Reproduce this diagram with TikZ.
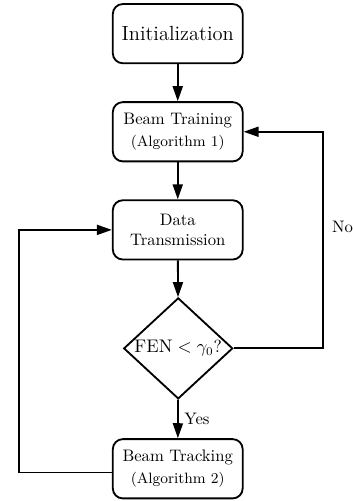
\documentclass[tikz,border=0pt]{standalone}
\usepackage{amsmath,amssymb}
\usepackage{tikz}
\usetikzlibrary{arrows.meta,positioning,shapes.geometric,calc}

\begin{document}
\begin{tikzpicture}[
  stepbox/.style={draw=black, line width=1.1pt, rounded corners=6pt,
    minimum width=2.74cm, minimum height=1.25cm, align=center, inner sep=3pt},
  decision/.style={draw=black, line width=1.1pt, shape=diamond,
    minimum width=2.30cm, minimum height=2.13cm, inner sep=0pt},
  flow/.style={line width=1.1pt, -{Triangle[length=9pt,width=6pt]}}]

\useasboundingbox (0,0) rectangle (7.44,-10.57);

\node[stepbox] (init) at (3.75,-0.71) {\fontsize{12.3}{15}\selectfont Initialization};

\node[stepbox] (train) at (3.75,-2.78) {%
  Beam Training\\[1.5pt]
  {\small (Algorithm 1)}};

\node[stepbox] (data) at (3.75,-4.85) {%
  Data\\
  Transmission};

\node[decision] (dec) at (3.76,-7.35) {%
  \makebox[0pt]{\fontsize{10.5}{12.6}\selectfont $\mathrm{FEN} < \gamma_0$?}};

\node[stepbox] (track) at (3.75,-9.89) {%
  Beam Tracking\\[1.5pt]
  {\small (Algorithm 2)}};

% Main flow
\draw[flow] (init) -- (train);
\draw[flow] (train) -- (data);
\draw[flow] (data) -- (dec);
\draw[flow] (dec) -- node[right]{Yes} (track);

% Loops back
\coordinate (noturn) at (6.81,-7.35);
\coordinate (backturn) at (0.40,-9.97);
\draw[flow] (dec.east) -- (noturn) |- node[pos=0.28, right, inner sep=5pt]{No} (train.east);
\draw[flow] ([yshift=-0.08cm]track.west) -- (backturn) |- (data.west);

\end{tikzpicture}
\end{document}
